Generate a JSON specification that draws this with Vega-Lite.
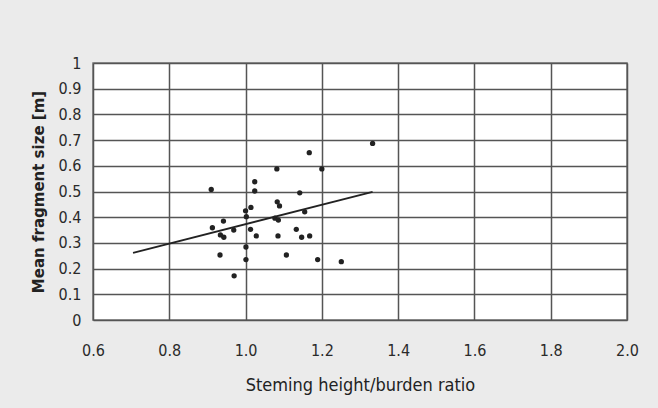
{
  "$schema": "https://vega.github.io/schema/vega-lite/v6.json",
  "autosize": "none",
  "width": 534,
  "height": 257,
  "padding": {"left": 93, "top": 63, "right": 31, "bottom": 88},
  "background": "#ebebeb",
  "config": {
    "view": {"fill": "white", "stroke": "#777", "strokeWidth": 1.5},
    "font": "'DejaVu Sans Condensed', Roboto, sans-serif",
    "axis": {
      "gridColor": "#555",
      "gridWidth": 1.5,
      "gridOpacity": 1,
      "domain": false,
      "ticks": false,
      "labelColor": "#2a2a2a",
      "labelFontSize": 16,
      "labelOverlap": false,
      "labelFlush": false,
      "titleColor": "#222"
    }
  },
  "datasets": {
    "pts": [
      {"ratio": 1.333, "size": 0.687},
      {"ratio": 1.167, "size": 0.651},
      {"ratio": 1.082, "size": 0.588},
      {"ratio": 1.2, "size": 0.588},
      {"ratio": 1.024, "size": 0.538},
      {"ratio": 0.91, "size": 0.508},
      {"ratio": 1.024, "size": 0.502},
      {"ratio": 1.142, "size": 0.495},
      {"ratio": 1.083, "size": 0.46},
      {"ratio": 1.089, "size": 0.444},
      {"ratio": 1.014, "size": 0.438},
      {"ratio": 1.0, "size": 0.425},
      {"ratio": 1.155, "size": 0.421},
      {"ratio": 1.002, "size": 0.402},
      {"ratio": 1.077, "size": 0.396},
      {"ratio": 1.086, "size": 0.389},
      {"ratio": 0.942, "size": 0.385},
      {"ratio": 0.913, "size": 0.359},
      {"ratio": 0.969, "size": 0.35},
      {"ratio": 1.013, "size": 0.353},
      {"ratio": 1.133, "size": 0.353},
      {"ratio": 0.934, "size": 0.331},
      {"ratio": 0.943, "size": 0.322},
      {"ratio": 1.028, "size": 0.327},
      {"ratio": 1.085, "size": 0.327},
      {"ratio": 1.147, "size": 0.322},
      {"ratio": 1.168, "size": 0.327},
      {"ratio": 1.001, "size": 0.284},
      {"ratio": 0.933, "size": 0.253},
      {"ratio": 1.107, "size": 0.253},
      {"ratio": 1.001, "size": 0.235},
      {"ratio": 1.189, "size": 0.235},
      {"ratio": 1.251, "size": 0.227},
      {"ratio": 0.97, "size": 0.172}
    ],
    "trend": [
      {"ratio": 0.705, "size": 0.261},
      {"ratio": 1.333, "size": 0.499}
    ]
  },
  "encoding": {
    "x": {
      "field": "ratio", "type": "quantitative",
      "scale": {"domain": [0.6, 2.0], "nice": false, "zero": false},
      "axis": {
        "values": [0.6, 0.8, 1.0, 1.2, 1.4, 1.6, 1.8, 2.0],
        "format": ".1f",
        "labelPadding": 22,
        "title": "Steming height/burden ratio",
        "titleFontSize": 18,
        "titleFontWeight": "normal",
        "titlePadding": 18
      }
    },
    "y": {
      "field": "size", "type": "quantitative",
      "scale": {"domain": [0, 1], "nice": false},
      "axis": {
        "values": [0, 0.1, 0.2, 0.3, 0.4, 0.5, 0.6, 0.7, 0.8, 0.9, 1],
        "labelExpr": "'' + round(datum.value * 10) / 10",
        "labelPadding": 12,
        "title": "Mean fragment size [m]",
        "titleFont": "DejaVu Sans",
        "titleFontSize": 15,
        "titleFontWeight": "bold",
        "titlePadding": 12
      }
    }
  },
  "layer": [
    {
      "data": {"name": "pts"},
      "mark": {"type": "point", "shape": "circle", "filled": true, "size": 28, "color": "#222", "opacity": 1}
    },
    {
      "data": {"name": "trend"},
      "mark": {"type": "line", "color": "#222", "strokeWidth": 1.8}
    }
  ]
}
